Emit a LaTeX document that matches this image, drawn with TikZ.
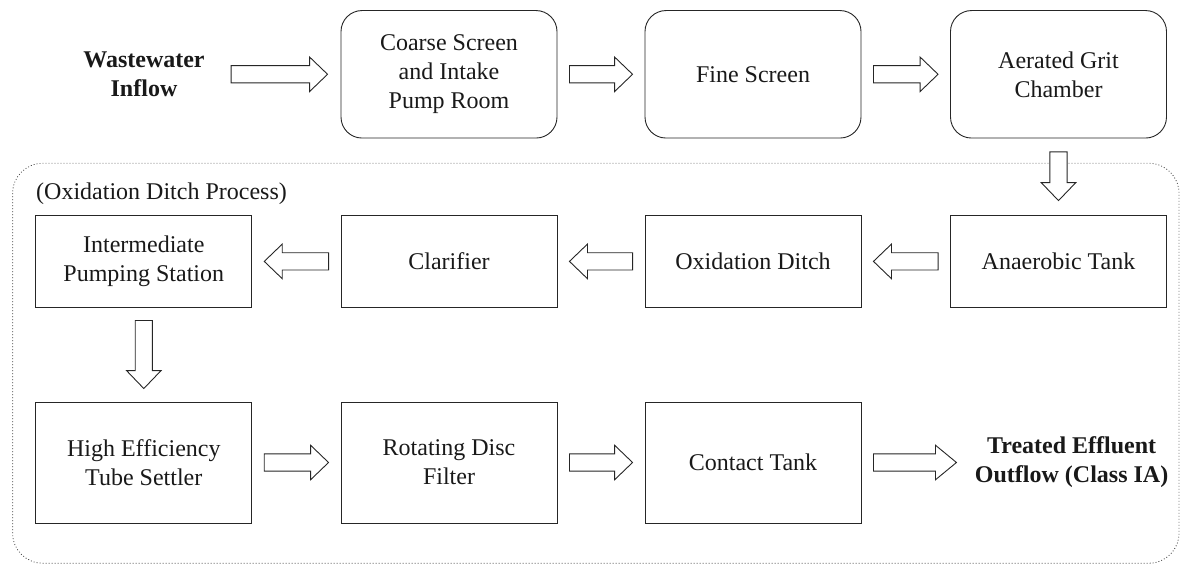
\documentclass[tikz,border=0pt]{standalone}
\usepackage{fontspec}
\setmainfont{Liberation Serif}
\usetikzlibrary{calc}
\tikzset{
  stage/.style={draw=black!85, line width=0.9pt, minimum width=216pt, inner sep=0pt,
    align=center, font=\fontsize{24}{29}\selectfont, text=black!90},
  roundstage/.style={stage, rounded corners=21pt, minimum height=127.5pt},
  midstage/.style={stage, minimum height=91.3pt},
  lowstage/.style={stage, minimum height=121pt},
  endlabel/.style={align=center, font=\fontsize{24}{29}\selectfont\bfseries, inner sep=0pt, text=black!90},
  zonelabel/.style={font=\fontsize{24}{29}\selectfont, inner sep=0pt, text=black!90},
  flowline/.style={draw=black!85, line width=0.9pt, fill=white, line join=miter},
  zone/.style={draw=black!75, line width=0.8pt, dash pattern=on 0.9pt off 2.1pt, rounded corners=30pt},
}
\newcommand\flowarrow[3][18pt]{%
  \coordinate (fa) at (#2);
  \coordinate (fb) at (#3);
  \coordinate (fc) at ($(fb)!#1!(fa)$);
  \draw[flowline] ($(fa)!8.6pt!90:(fb)$) -- ($(fc)!8.6pt!90:(fb)$) -- ($(fc)!17.3pt!90:(fb)$)
    -- (fb) -- ($(fc)!17.3pt!-90:(fb)$) -- ($(fc)!8.6pt!-90:(fb)$) -- ($(fa)!8.6pt!-90:(fb)$) -- cycle;
}
\begin{document}
\begin{tikzpicture}[x=1pt,y=-1pt]
\useasboundingbox (0,0) rectangle (1181,564);
% process zone
\draw[zone] (12.6,163.3) rectangle (1179,563.2);
\node[zonelabel, anchor=base west] (zlabel) at (36,199.5) {(Oxidation Ditch Process)};
% top row
\node[endlabel] (ww) at (144,74.3) {Wastewater\\Inflow};
\node[roundstage] (coarse) at (449,74.3) {Coarse Screen\\and Intake\\Pump Room};
\node[roundstage] (fine) at (753,74.3) {Fine Screen};
\node[roundstage] (grit) at (1058.5,74.3) {Aerated Grit\\Chamber};
% second row
\node[midstage] (inter) at (143.8,261.4) {Intermediate\\Pumping Station};
\node[midstage] (clar) at (449,261.4) {Clarifier};
\node[midstage] (ditch) at (753,261.4) {Oxidation Ditch};
\node[midstage] (anaer) at (1058.5,261.4) {Anaerobic Tank};
% third row
\node[lowstage] (tube) at (143.8,462.5) {High Efficiency\\Tube Settler};
\node[lowstage] (disc) at (449,462.5) {Rotating Disc\\Filter};
\node[lowstage] (contact) at (753,462.5) {Contact Tank};
\node[endlabel] (out) at (1071.6,462.5) {Treated Effluent\\Outflow (Class IA)};
% connectors
\flowarrow{$(coarse.west)+(-109.5,0)$}{$(coarse.west)+(-13,0)$}
\flowarrow{$(coarse.east)+(12,0)$}{$(fine.west)+(-12,0)$}
\flowarrow{$(fine.east)+(12,0)$}{$(grit.west)+(-12,0)$}
\flowarrow{$(grit.south)+(0,13.4)$}{$(anaer.north)+(0,-14.7)$}
\flowarrow{$(anaer.west)+(-12,0)$}{$(ditch.east)+(12,0)$}
\flowarrow{$(ditch.west)+(-12,0)$}{$(clar.east)+(12,0)$}
\flowarrow{$(clar.west)+(-12,0)$}{$(inter.east)+(12,0)$}
\flowarrow{$(inter.south)+(0,13)$}{$(tube.north)+(0,-13)$}
\flowarrow{$(tube.east)+(12,0)$}{$(disc.west)+(-12,0)$}
\flowarrow{$(disc.east)+(12,0)$}{$(contact.west)+(-12,0)$}
\flowarrow[21pt]{$(contact.east)+(12,0)$}{$(contact.east)+(95,0)$}
\end{tikzpicture}
\end{document}
